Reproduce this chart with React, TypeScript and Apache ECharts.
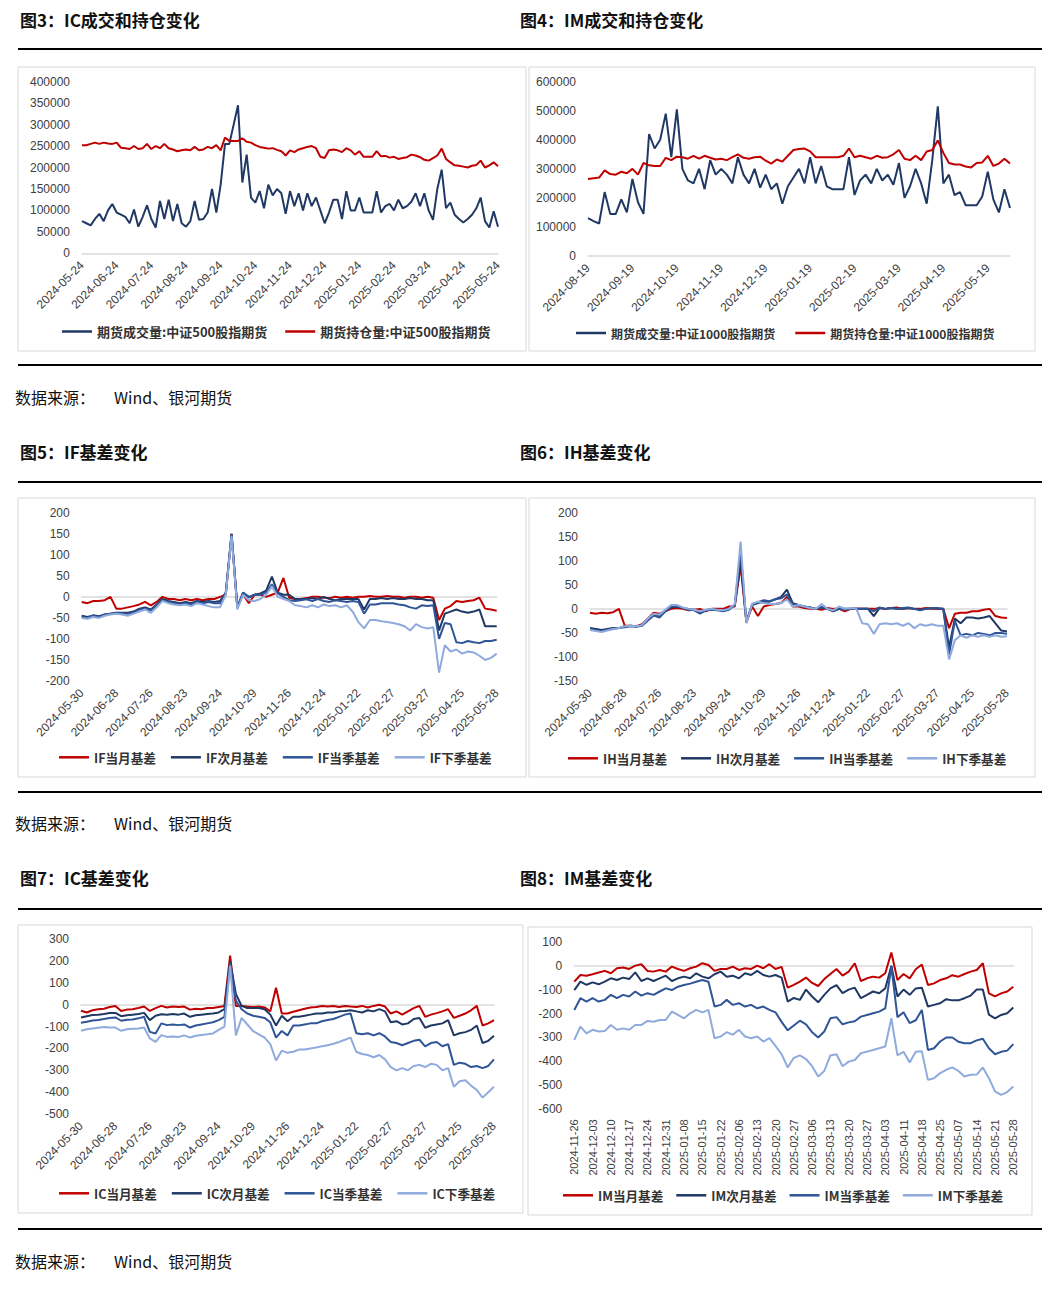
import React, { useEffect, useRef } from 'react';
import * as echarts from 'echarts';

// ---------- tick labels ----------
const icVolLabels = ['2024-05-24','2024-06-24','2024-07-24','2024-08-24','2024-09-24','2024-10-24','2024-11-24','2024-12-24','2025-01-24','2025-02-24','2025-03-24','2025-04-24','2025-05-24'];
const imVolLabels = ['2024-08-19','2024-09-19','2024-10-19','2024-11-19','2024-12-19','2025-01-19','2025-02-19','2025-03-19','2025-04-19','2025-05-19'];
const basisLabels = ['2024-05-30','2024-06-28','2024-07-26','2024-08-23','2024-09-24','2024-10-29','2024-11-26','2024-12-24','2025-01-22','2025-02-27','2025-03-27','2025-04-25','2025-05-28'];
const imBasisLabels = ['2024-11-26','2024-12-03','2024-12-10','2024-12-17','2024-12-24','2024-12-31','2025-01-08','2025-01-15','2025-01-22','2025-02-06','2025-02-13','2025-02-20','2025-02-27','2025-03-06','2025-03-13','2025-03-20','2025-03-27','2025-04-03','2025-04-11','2025-04-18','2025-04-25','2025-05-07','2025-05-14','2025-05-21','2025-05-28'];

// ---------- 图3 IC 成交/持仓 ----------
const icVolume = [75000,70000,65000,80000,92000,75000,100000,115000,95000,90000,
  85000,70000,102000,62000,85000,112000,80000,60000,122000,80000,
  125000,75000,115000,70000,62000,75000,122000,78000,80000,95000,
  150000,95000,160000,255000,255000,300000,345000,165000,230000,130000,
  118000,145000,105000,160000,135000,150000,140000,92000,145000,110000,
  140000,100000,140000,110000,130000,100000,70000,95000,125000,125000,
  80000,145000,100000,100000,130000,95000,95000,95000,145000,95000,
  110000,115000,100000,125000,105000,110000,120000,140000,110000,140000,
  100000,78000,150000,195000,105000,118000,90000,80000,72000,80000,
  90000,105000,130000,75000,60000,98000,62000];
const icOpenInterest = [252000,252000,255000,258000,255000,258000,256000,255000,258000,246000,
  245000,243000,250000,243000,245000,255000,243000,250000,245000,255000,
  245000,242000,238000,240000,242000,240000,248000,240000,242000,248000,
  245000,252000,240000,270000,262000,262000,262000,268000,260000,258000,
  252000,248000,246000,244000,245000,241000,238000,228000,240000,236000,
  242000,245000,248000,250000,245000,225000,222000,240000,242000,240000,
  236000,245000,240000,230000,238000,225000,225000,225000,238000,226000,
  227000,223000,225000,220000,222000,224000,230000,228000,224000,218000,
  216000,222000,228000,244000,220000,212000,205000,204000,202000,200000,
  204000,206000,216000,200000,205000,212000,203000];

// ---------- 图4 IM 成交/持仓 ----------
const imVolume = [130000,120000,112000,220000,145000,145000,195000,150000,265000,185000,
  145000,420000,370000,400000,490000,340000,505000,300000,260000,250000,
  300000,230000,330000,280000,300000,280000,250000,340000,280000,250000,
  300000,235000,280000,230000,250000,180000,240000,270000,300000,250000,
  340000,250000,310000,240000,230000,230000,230000,340000,210000,260000,
  280000,250000,300000,260000,280000,245000,320000,200000,240000,300000,
  250000,180000,330000,515000,250000,280000,210000,220000,175000,175000,
  175000,205000,290000,195000,150000,230000,165000];
const imOpenInterest = [265000,268000,270000,295000,282000,280000,290000,285000,300000,280000,
  320000,312000,310000,310000,338000,330000,342000,340000,335000,345000,
  335000,345000,338000,332000,335000,330000,340000,350000,338000,335000,
  340000,342000,328000,318000,332000,325000,345000,365000,368000,370000,
  360000,340000,340000,340000,340000,340000,345000,370000,340000,345000,
  340000,335000,345000,338000,340000,350000,365000,335000,330000,345000,
  330000,360000,365000,398000,355000,320000,315000,315000,308000,305000,
  320000,322000,345000,310000,318000,335000,318000];

// ---------- 图5 IF 基差 ----------
const ifMonth = [-12,-15,-10,-10,-8,0,-28,-28,-25,-22,
  -18,-12,-20,-12,0,-5,-5,-8,-5,-8,
  -5,-8,-5,-5,0,5,150,-25,5,-15,
  5,5,0,5,10,45,-2,-5,-5,-3,
  0,0,-2,-3,0,-2,0,-2,0,0,
  2,0,0,2,0,0,-2,0,0,-2,
  0,-2,-55,-28,-22,-10,-12,-10,-8,-2,
  -28,-30,-33];
const ifNext = [-45,-48,-44,-46,-42,-40,-38,-38,-38,-35,
  -28,-25,-30,-18,-5,-10,-12,-15,-12,-15,
  -10,-12,-10,-12,-10,10,150,-25,10,0,
  5,8,15,48,10,5,5,-5,-5,-5,
  -3,-5,0,-5,-8,-5,-5,-5,-5,-30,
  -5,-5,-3,-5,-3,-5,-5,-3,-5,-5,
  -8,-8,-80,-40,-35,-30,-35,-38,-35,-30,
  -70,-70,-70];
const ifQuarter = [-48,-50,-45,-48,-42,-40,-38,-40,-40,-38,
  -30,-28,-32,-20,-8,-12,-15,-18,-15,-18,
  -12,-15,-12,-15,-15,10,148,-25,10,-2,
  5,5,10,30,8,0,-8,-10,-8,-6,
  -10,-5,-10,-12,-8,-10,-12,-10,-12,-40,
  -18,-18,-15,-15,-15,-18,-20,-25,-28,-20,
  -22,-20,-100,-62,-65,-108,-110,-105,-108,-110,
  -105,-105,-102];
const ifNextQuarter = [-50,-52,-48,-50,-45,-42,-40,-42,-45,-40,
  -35,-30,-38,-25,-10,-15,-18,-20,-18,-22,
  -15,-18,-22,-25,-25,5,145,-30,5,-8,
  -10,-5,5,25,0,-5,-10,-20,-22,-25,
  -20,-25,-18,-22,-20,-25,-20,-35,-60,-75,
  -55,-55,-58,-60,-62,-65,-70,-80,-65,-72,
  -75,-72,-180,-115,-130,-125,-135,-130,-132,-140,
  -150,-145,-135];

// ---------- 图6 IH 基差 ----------
const ihMonth = [-8,-10,-8,-9,-7,0,-35,-35,-36,-32,
  -20,-8,-10,-5,0,2,0,-3,-2,0,
  -5,0,0,0,5,5,90,-28,5,-15,
  5,8,10,12,25,5,5,2,0,0,
  -2,2,0,0,-5,0,0,0,0,0,
  2,0,2,3,0,2,0,0,2,0,
  0,0,-40,-10,-8,-8,-5,-5,-2,0,
  -15,-18,-19];
const ihNext = [-40,-42,-44,-42,-40,-40,-36,-35,-36,-34,
  -22,-12,-15,-5,3,5,2,0,-2,-8,
  -3,0,-2,-3,0,8,100,-25,8,12,
  15,15,20,25,40,12,8,5,3,0,
  3,0,-5,0,0,0,0,0,0,-15,
  2,0,2,0,0,2,0,-2,0,2,
  0,0,-80,-20,-30,-18,-18,-20,-18,-15,
  -30,-45,-47];
const ihQuarter = [-42,-45,-46,-44,-42,-40,-38,-36,-37,-35,
  -24,-14,-18,-5,5,6,2,-2,-3,-10,
  -3,-2,-3,-5,-2,8,120,-28,10,14,
  18,16,20,22,30,10,6,5,3,0,
  4,0,-4,0,-2,0,0,0,0,-5,
  3,0,2,0,2,3,0,-3,0,2,
  2,0,-95,-25,-55,-52,-55,-50,-52,-55,
  -50,-50,-52];
const ihNextQuarter = [-44,-46,-48,-45,-42,-40,-36,-35,-36,-34,
  -20,-10,-12,-2,8,8,3,0,-2,-5,
  -2,0,-2,-3,0,10,140,-30,10,15,
  12,10,10,12,20,5,8,5,2,0,
  10,0,-3,5,0,2,0,-30,-32,-52,
  -32,-30,-32,-30,-35,-30,-40,-32,-35,-32,
  -35,-35,-105,-65,-55,-60,-55,-58,-55,-58,
  -55,-58,-57];

// ---------- 图7 IC 基差 ----------
const icMonth = [-27,-35,-25,-20,-18,-10,-5,-28,-22,-20,
  -15,-8,-28,-15,-5,-12,-8,-10,-8,-22,
  -18,-20,-15,-15,-10,-5,225,-5,-5,-8,
  -10,-8,-12,-30,78,-40,-40,-32,-25,-18,
  -12,-10,-5,-8,-5,-10,-5,-8,-10,-5,
  -12,-5,0,-8,-40,-30,-45,-30,-15,-5,
  -55,-45,-38,-30,-20,-60,-50,-40,-25,-5,
  -95,-85,-70];
const icNext = [-58,-52,-47,-45,-42,-38,-37,-52,-48,-45,
  -42,-37,-70,-50,-43,-45,-42,-45,-40,-55,
  -48,-45,-42,-40,-35,-20,200,50,-5,-15,
  -15,-15,-20,-45,-95,-50,-75,-55,-55,-50,
  -45,-40,-40,-35,-35,-30,-28,-25,-30,-35,
  -25,-30,-20,-30,-80,-75,-90,-85,-65,-60,
  -105,-95,-90,-85,-70,-140,-130,-125,-115,-95,
  -175,-165,-142];
const icQuarter = [-82,-78,-72,-70,-65,-60,-58,-73,-68,-67,
  -62,-55,-124,-131,-85,-93,-90,-93,-90,-104,
  -95,-90,-85,-80,-70,-55,190,20,-20,-40,
  -50,-55,-60,-80,-150,-120,-140,-95,-95,-90,
  -85,-85,-75,-70,-65,-55,-45,-40,-130,-135,
  -130,-140,-130,-145,-170,-175,-185,-175,-165,-160,
  -190,-175,-170,-190,-180,-275,-265,-270,-285,-280,
  -290,-280,-250];
const icNextQuarter = [-119,-112,-108,-105,-102,-104,-104,-119,-112,-110,
  -108,-104,-154,-170,-139,-147,-145,-147,-140,-150,
  -142,-138,-135,-131,-115,-100,180,-140,-60,-90,
  -120,-135,-150,-180,-255,-210,-220,-215,-205,-205,
  -200,-195,-190,-185,-178,-170,-160,-150,-215,-225,
  -230,-240,-230,-250,-285,-300,-290,-300,-280,-275,
  -285,-270,-275,-300,-290,-375,-350,-345,-370,-390,
  -425,-400,-375];

// ---------- 图8 IM 基差 ----------
const imMonth = [-67,-39,-42,-36,-29,-22,-32,-11,-8,-14,
  0,6,-22,-25,-18,-25,-4,-14,-22,-11,
  -4,10,3,-22,-14,-14,-4,-18,-11,-14,
  0,-11,6,-14,-5,-92,-80,-67,-50,-72,
  -85,-56,-35,-14,-42,-25,10,-64,-53,-46,
  -50,-32,55,-60,-35,-53,-15,5,-81,-74,
  -60,-53,-40,-46,-35,-25,-18,10,-116,-128,
  -116,-108,-88];
const imNext = [-102,-67,-80,-70,-78,-67,-53,-60,-50,-56,
  -28,-64,-53,-64,-53,-42,-64,-53,-46,-53,
  -32,-46,-53,-36,-25,-46,-42,-53,-32,-39,
  -22,-39,-46,-39,-50,-150,-135,-143,-100,-129,
  -153,-122,-95,-81,-115,-100,-92,-136,-122,-108,
  -115,-95,0,-129,-100,-122,-95,-92,-171,-164,
  -157,-140,-145,-145,-136,-125,-100,-100,-205,-220,
  -206,-199,-175];
const imQuarter = [-185,-136,-150,-136,-150,-143,-122,-136,-122,-129,
  -108,-125,-115,-122,-108,-95,-102,-88,-81,-75,
  -67,-60,-67,-171,-164,-143,-164,-157,-171,-164,
  -178,-171,-185,-195,-235,-270,-250,-230,-245,-278,
  -300,-275,-220,-215,-245,-237,-232,-213,-206,-199,
  -192,-178,-4,-215,-195,-240,-228,-185,-352,-345,
  -317,-300,-300,-318,-324,-324,-312,-305,-345,-370,
  -360,-355,-328];
const imNextQuarter = [-310,-255,-283,-268,-275,-273,-248,-268,-262,-268,
  -248,-248,-231,-234,-227,-227,-192,-206,-220,-199,
  -185,-195,-185,-303,-296,-278,-289,-268,-296,-303,
  -296,-317,-303,-335,-370,-425,-385,-375,-390,-420,
  -463,-440,-375,-370,-420,-401,-394,-366,-359,-352,
  -345,-338,-220,-375,-360,-405,-360,-358,-477,-470,
  -449,-435,-425,-440,-463,-456,-455,-425,-470,-525,
  -540,-528,-505];

// ---------- texts ----------
const titles = ['图3：IC成交和持仓变化', '图4：IM成交和持仓变化', '图5：IF基差变化', '图6：IH基差变化', '图7：IC基差变化', '图8：IM基差变化'];
const sourceLabel = '数据来源：';
const sourceText = 'Wind、银河期货';

const RED = '#C00000';
const NAVY = '#203864';
const MID = '#2F5597';
const LIGHT = '#8FAADC';
const NUM_FONT = '"Liberation Sans", Arial, Helvetica, sans-serif';
const CJK_FONT = '"Noto Sans CJK SC", "Noto Sans", sans-serif';
const AXIS_COLOR = '#404040';

function makeCategories(labels: string[], step: number, n: number): string[] {
  const out: string[] = [];
  for (let i = 0; i < n; i++) {
    out.push(i % step === 0 && labels[i / step] ? labels[i / step] : '\u200b' + i);
  }
  return out;
}

type Panel = {
  grid: { left: number; top: number; width: number; height: number };
  labels: string[];
  step: number;
  n: number;
  rotate: number;
  labelSize: number;
  yMin: number;
  yMax: number;
  yInterval: number;
  series: { name: string; data: number[]; color: string }[];
  legend: { left: number; top: number; itemGap: number; fontSize: number };
};

const panels: Panel[] = [
  {
    grid: { left: 82, top: 81.7, width: 416, height: 171.6 },
    labels: icVolLabels, step: 8, n: icVolume.length, rotate: 45, labelSize: 12,
    yMin: 0, yMax: 400000, yInterval: 50000,
    series: [
      { name: '期货成交量:中证500股指期货', data: icVolume, color: NAVY },
      { name: '期货持仓量:中证500股指期货', data: icOpenInterest, color: RED },
    ],
    legend: { left: 62, top: 325, itemGap: 18, fontSize: 13 },
  },
  {
    grid: { left: 588, top: 81.7, width: 422, height: 174.3 },
    labels: imVolLabels, step: 8, n: imVolume.length, rotate: 45, labelSize: 12,
    yMin: 0, yMax: 600000, yInterval: 100000,
    series: [
      { name: '期货成交量:中证1000股指期货', data: imVolume, color: NAVY },
      { name: '期货持仓量:中证1000股指期货', data: imOpenInterest, color: RED },
    ],
    legend: { left: 576, top: 327, itemGap: 20, fontSize: 12 },
  },
  {
    grid: { left: 81.7, top: 512.7, width: 415, height: 168.3 },
    labels: basisLabels, step: 6, n: ifMonth.length, rotate: 45, labelSize: 12,
    yMin: -200, yMax: 200, yInterval: 50,
    series: [
      { name: 'IF当月基差', data: ifMonth, color: RED },
      { name: 'IF次月基差', data: ifNext, color: NAVY },
      { name: 'IF当季基差', data: ifQuarter, color: MID },
      { name: 'IF下季基差', data: ifNextQuarter, color: LIGHT },
    ],
    legend: { left: 59, top: 751, itemGap: 15, fontSize: 12.6 },
  },
  {
    grid: { left: 590, top: 512.7, width: 417, height: 168.3 },
    labels: basisLabels, step: 6, n: ihMonth.length, rotate: 45, labelSize: 12,
    yMin: -150, yMax: 200, yInterval: 50,
    series: [
      { name: 'IH当月基差', data: ihMonth, color: RED },
      { name: 'IH次月基差', data: ihNext, color: NAVY },
      { name: 'IH当季基差', data: ihQuarter, color: MID },
      { name: 'IH下季基差', data: ihNextQuarter, color: LIGHT },
    ],
    legend: { left: 568, top: 752, itemGap: 14, fontSize: 12.6 },
  },
  {
    grid: { left: 81, top: 939.3, width: 413, height: 174.7 },
    labels: basisLabels, step: 6, n: icMonth.length, rotate: 45, labelSize: 12,
    yMin: -500, yMax: 300, yInterval: 100,
    series: [
      { name: 'IC当月基差', data: icMonth, color: RED },
      { name: 'IC次月基差', data: icNext, color: NAVY },
      { name: 'IC当季基差', data: icQuarter, color: MID },
      { name: 'IC下季基差', data: icNextQuarter, color: LIGHT },
    ],
    legend: { left: 59, top: 1187, itemGap: 15, fontSize: 12.6 },
  },
  {
    grid: { left: 574.3, top: 941.7, width: 439, height: 167.6 },
    labels: imBasisLabels, step: 3, n: imMonth.length, rotate: 90, labelSize: 11,
    yMin: -600, yMax: 100, yInterval: 100,
    series: [
      { name: 'IM当月基差', data: imMonth, color: RED },
      { name: 'IM次月基差', data: imNext, color: NAVY },
      { name: 'IM当季基差', data: imQuarter, color: MID },
      { name: 'IM下季基差', data: imNextQuarter, color: LIGHT },
    ],
    legend: { left: 563, top: 1189, itemGap: 13, fontSize: 12.6 },
  },
];

function buildOption() {
  const grid: any[] = [];
  const xAxis: any[] = [];
  const yAxis: any[] = [];
  const series: any[] = [];
  const legend: any[] = [];

  panels.forEach((p, i) => {
    const cats = makeCategories(p.labels, p.step, p.n);
    grid.push({ ...p.grid, containLabel: false });
    xAxis.push({
      type: 'category', gridIndex: i, data: cats, boundaryGap: false, position: 'bottom',
      axisLine: { show: false, onZero: false },
      axisTick: { show: false },
      splitLine: { show: false },
      axisLabel: {
        interval: (idx: number) => idx % p.step === 0,
        rotate: p.rotate, fontSize: p.labelSize, color: AXIS_COLOR, fontFamily: NUM_FONT, margin: 10,
      },
    });
    xAxis.push({
      type: 'category', gridIndex: i, data: cats, boundaryGap: false, position: 'bottom',
      axisLine: { show: true, onZero: true, lineStyle: { color: '#D9D9D9', width: 1.5 } },
      axisTick: { show: false },
      axisLabel: { show: false },
      splitLine: { show: false },
    });
    yAxis.push({
      type: 'value', gridIndex: i, min: p.yMin, max: p.yMax, interval: p.yInterval,
      axisLine: { show: false }, axisTick: { show: false }, splitLine: { show: false },
      axisLabel: { fontSize: 12, color: AXIS_COLOR, fontFamily: NUM_FONT, margin: 12, formatter: (v: number) => String(v) },
    });
    p.series.forEach((s) => {
      series.push({
        type: 'line', name: s.name, data: s.data,
        xAxisIndex: i * 2, yAxisIndex: i,
        symbol: 'none', showSymbol: false,
        color: s.color,
        itemStyle: { color: s.color },
        lineStyle: { color: s.color, width: 2 },
        emphasis: { disabled: true },
        silent: true,
      });
    });
    legend.push({
      data: p.series.map((s) => s.name),
      left: p.legend.left, top: p.legend.top,
      orient: 'horizontal', padding: 0,
      icon: 'rect', itemWidth: 30, itemHeight: 2.5,
      itemGap: p.legend.itemGap,
      selectedMode: false,
      textStyle: { fontFamily: CJK_FONT, fontWeight: 'bold', fontSize: p.legend.fontSize, color: '#333333' },
    });
  });

  const graphic: any[] = [];
  const frames = [
    [18, 67, 508, 284], [529, 67, 506, 284],
    [18, 498, 508, 279], [529, 498, 506, 279],
    [18, 925, 505, 288], [528, 927, 504, 288],
  ];
  frames.forEach(([x, y, w, h]) => {
    graphic.push({ type: 'rect', shape: { x, y, width: w, height: h }, style: { fill: '#ffffff', stroke: '#D9D9D9', lineWidth: 1 }, z: -10, silent: true });
  });
  [49, 365, 482, 792, 909, 1229].forEach((y) => {
    graphic.push({ type: 'line', shape: { x1: 18, y1: y, x2: 1042, y2: y }, style: { stroke: '#000000', lineWidth: 2 }, silent: true });
  });
  const titlePos = [[20, 19], [520, 19], [20, 451], [520, 451], [20, 877], [520, 877]];
  titles.forEach((t, i) => {
    graphic.push({
      type: 'text', x: titlePos[i][0], y: titlePos[i][1], silent: true,
      style: { text: t, fontFamily: CJK_FONT, fontWeight: 'bold', fontSize: 17, fill: '#111111', verticalAlign: 'middle', align: 'left' },
    });
  });
  [397, 823, 1261].forEach((y) => {
    graphic.push({ type: 'text', x: 15, y, silent: true, style: { text: sourceLabel, fontFamily: CJK_FONT, fontSize: 16, fill: '#111111', verticalAlign: 'middle' } });
    graphic.push({ type: 'text', x: 114, y, silent: true, style: { text: sourceText, fontFamily: CJK_FONT, fontSize: 16, fill: '#111111', verticalAlign: 'middle' } });
  });

  return { animation: false, backgroundColor: '#ffffff', grid, xAxis, yAxis, series, legend, graphic };
}

export default function App() {
  const ref = useRef<HTMLDivElement>(null);
  useEffect(() => {
    if (!ref.current) return;
    const chart = echarts.init(ref.current, undefined, { renderer: 'svg' });
    chart.setOption(buildOption());
    return () => chart.dispose();
  }, []);
  return <div ref={ref} style={{ position: 'absolute', left: 0, top: 0, width: 1056, height: 1300 }} />;
}
